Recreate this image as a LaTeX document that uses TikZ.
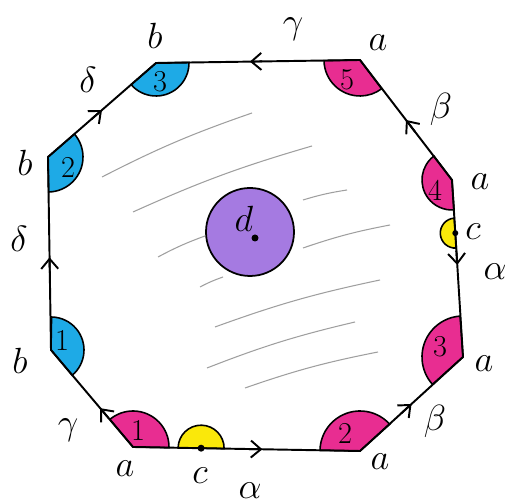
\documentclass[tikz,border=0pt]{standalone}
\usepackage{amsmath,amssymb}
\usepackage{tikz}
\usetikzlibrary{arrows.meta,calc}
\definecolor{secpink}{RGB}{232,45,145}
\definecolor{secblue}{RGB}{30,170,230}
\definecolor{secyellow}{RGB}{250,232,10}
\definecolor{holepurple}{RGB}{165,122,225}

\begin{document}
\begin{tikzpicture}[
  edge/.style={line width=1.1pt, line join=round},
  tip/.style={line width=1.1pt, -{Straight Barb[length=0.2cm, width=0.34cm]}},
  pinksec/.style={fill=secpink, draw, line width=0.9pt},
  bluesec/.style={fill=secblue, draw, line width=0.9pt},
  yellowsec/.style={fill=secyellow, draw, line width=0.9pt},
  hatch/.style={gray!75, line width=0.6pt},
  lbl/.style={font=\huge},
  num/.style={font=\LARGE}
]
\useasboundingbox (0,0) rectangle (10.18,10.08);

% vertices of the octagon
\coordinate (A1) at (2.66,1.14);
\coordinate (A2) at (7.20,1.06);
\coordinate (A3) at (9.26,2.94);
\coordinate (A4) at (9.04,6.48);
\coordinate (A5) at (7.20,8.88);
\coordinate (B3) at (3.12,8.82);
\coordinate (B2) at (0.96,6.94);
\coordinate (B1) at (1.02,3.08);
\coordinate (C1) at ($(A1)!0.3!(A2)$);
\coordinate (C2) at ($(A4)!0.3!(A3)$);

% shading strokes
\foreach \p/\q in {{2.04,6.54}/{5.04,7.82}, {2.66,5.84}/{6.24,7.16}, {3.16,4.94}/{4.10,5.36},
                   {6.06,6.08}/{6.94,6.28}, {6.06,5.12}/{7.80,5.58}, {4.00,4.34}/{4.46,4.54},
                   {4.30,3.54}/{7.60,4.48}, {4.14,2.72}/{7.10,3.64}, {4.90,2.32}/{7.56,3.04}}
  \draw[hatch] (\p) to[bend left=4] (\q);

% the hole d
\node[circle, draw, line width=1pt, fill=holepurple, minimum size=1.76cm] (hole) at (5.00,5.44) {};
\fill (5.10,5.32) circle (0.07);
\node[lbl] (dlbl) at (4.88,5.70) {$d$};

% corner sectors
\filldraw[pinksec] (A1) -- ++(-1:0.72) arc[start angle=-1, end angle=130, radius=0.72] -- cycle;
\filldraw[pinksec] (A2) -- ++(42:0.8) arc[start angle=42, end angle=179, radius=0.8] -- cycle;
\filldraw[pinksec] (A3) -- ++(94:0.82) arc[start angle=94, end angle=222, radius=0.82] -- cycle;
\filldraw[pinksec] (A4) -- ++(127:0.6) arc[start angle=127, end angle=274, radius=0.6] -- cycle;
\filldraw[pinksec] (A5) -- ++(181:0.72) arc[start angle=181, end angle=307, radius=0.72] -- cycle;
\filldraw[bluesec] (B3) -- ++(221:0.66) arc[start angle=221, end angle=361, radius=0.66] -- cycle;
\filldraw[bluesec] (B2) -- ++(-89:0.7) arc[start angle=-89, end angle=41, radius=0.7] -- cycle;
\filldraw[bluesec] (B1) -- ++(-50:0.66) arc[start angle=-50, end angle=89, radius=0.66] -- cycle;
\filldraw[yellowsec] (C1) -- ++(-1:0.46) arc[start angle=-1, end angle=179, radius=0.46] -- cycle;
\filldraw[yellowsec] (C2) -- ++(94:0.3) arc[start angle=94, end angle=274, radius=0.3] -- cycle;

% edges
\draw[edge] (A1) -- (A2) -- (A3) -- (A4) -- (A5) -- (B3) -- (B2) -- (B1) -- cycle;
\draw[tip] ($(A1)!0.5!(A2)$) -- ($(A1)!0.57!(A2)$);
\draw[tip] ($(A2)!0.4!(A3)$) -- ($(A2)!0.5!(A3)$);
\draw[tip] ($(A4)!0.4!(A3)$) -- ($(A4)!0.48!(A3)$);
\draw[tip] ($(A4)!0.4!(A5)$) -- ($(A4)!0.5!(A5)$);
\draw[tip] ($(A5)!0.48!(B3)$) -- ($(A5)!0.54!(B3)$);
\draw[tip] ($(B2)!0.4!(B3)$) -- ($(B2)!0.5!(B3)$);
\draw[tip] ($(B1)!0.4!(B2)$) -- ($(B1)!0.48!(B2)$);
\draw[tip] ($(A1)!0.3!(B1)$) -- ($(A1)!0.4!(B1)$);
\fill (C1) circle (0.07);
\fill (C2) circle (0.06);

% numbers in the sectors
\node[num] (p1) at (2.76,1.48) {1};
\node[num] (p2) at (6.90,1.42) {2};
\node[num] (p3) at (8.80,3.14) {3};
\node[num] (p4) at (8.70,6.28) {4};
\node[num] (p5) at (6.94,8.48) {5};
\node[num] (q3) at (3.20,8.44) {3};
\node[num] (q2) at (1.36,6.74) {2};
\node[num] (q1) at (1.24,3.28) {1};

% vertex and edge labels
\node[lbl] (la1) at (2.50,0.70) {$a$};
\node[lbl] (lc1) at (4.00,0.56) {$c$};
\node[lbl] (lal1) at (5.00,0.26) {$\alpha$};
\node[lbl] (la2) at (7.60,0.84) {$a$};
\node[lbl] (lbe1) at (8.70,1.66) {$\beta$};
\node[lbl] (la3) at (9.68,2.80) {$a$};
\node[lbl] (lal2) at (9.90,4.64) {$\alpha$};
\node[lbl] (lc2) at (9.46,5.44) {$c$};
\node[lbl] (la4) at (9.60,6.44) {$a$};
\node[lbl] (lbe2) at (8.82,7.90) {$\beta$};
\node[lbl] (la5) at (7.56,9.22) {$a$};
\node[lbl] (lga1) at (5.86,9.50) {$\gamma$};
\node[lbl] (lb3) at (3.10,9.36) {$b$};
\node[lbl] (lde1) at (1.76,8.48) {$\delta$};
\node[lbl] (lb2) at (0.50,6.82) {$b$};
\node[lbl] (lde2) at (0.38,5.30) {$\delta$};
\node[lbl] (lb1) at (0.40,2.86) {$b$};
\node[lbl] (lga2) at (1.36,1.48) {$\gamma$};

\end{tikzpicture}
\end{document}
